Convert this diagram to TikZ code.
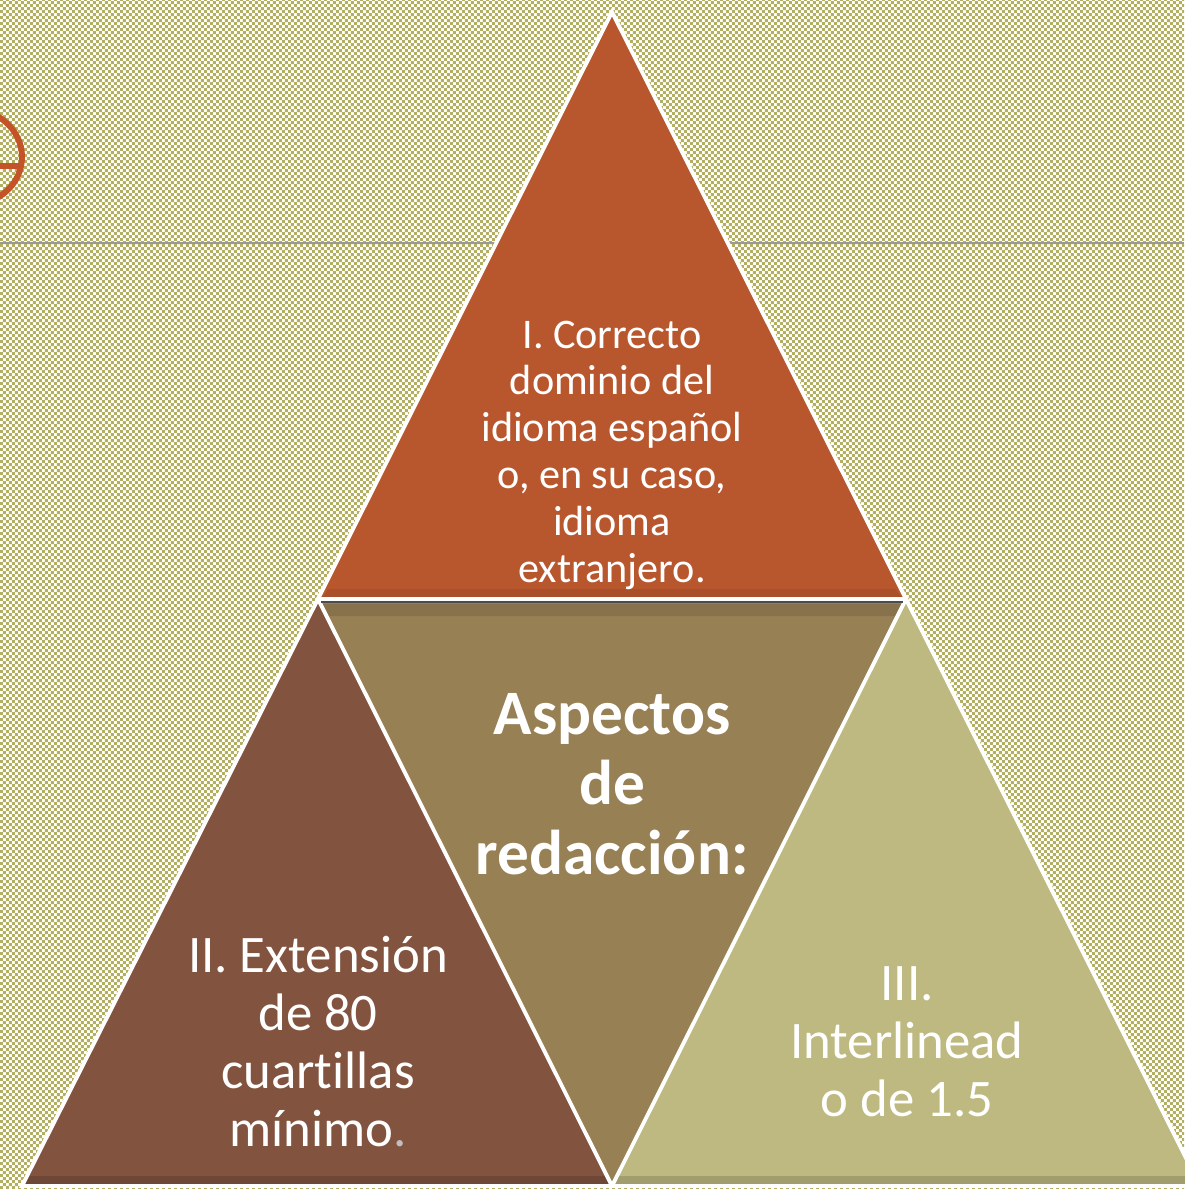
\documentclass[tikz,border=0pt]{standalone}
\usepackage{fontspec}
\setmainfont[Ligatures=NoCommon]{Carlito}
\usetikzlibrary{patterns}
\pgfdeclarepatternformonly{checker}{\pgfpointorigin}{\pgfqpoint{1.7pt}{1.7pt}}{\pgfqpoint{1.7pt}{1.7pt}}{%
  \pgfpathrectangle{\pgfpointorigin}{\pgfqpoint{0.85pt}{0.85pt}}%
  \pgfpathrectangle{\pgfqpoint{0.85pt}{0.85pt}}{\pgfqpoint{0.85pt}{0.85pt}}%
  \pgfusepath{fill}}
\definecolor{olivebg}{RGB}{178,174,98}
\definecolor{topc}{RGB}{184,87,46}
\definecolor{leftc}{RGB}{130,84,64}
\definecolor{midc}{RGB}{152,128,85}
\definecolor{rightc}{RGB}{190,185,128}
\definecolor{accent}{RGB}{196,84,40}
\tikzset{
  tri/.style={draw=white, line width=1.1pt, line join=miter},
  lbl/.style={text=white, align=center, font=\fontsize{12}{13.3}\selectfont, inner sep=0pt},
  lblbig/.style={text=white, align=center, font=\fontsize{15}{16.5}\selectfont, inner sep=0pt},
  lblmid/.style={text=white, align=center, font=\bfseries\fontsize{18}{19.9}\selectfont, inner sep=0pt}
}
\begin{document}
\begin{tikzpicture}[x=0.01cm,y=-0.01cm]
\useasboundingbox (0,0) rectangle (1184,1189);
\fill[white] (0,0) rectangle (1184,1189);
\fill[pattern=checker, pattern color=olivebg] (0,0) rectangle (1184,1189);
% header rule and partial glyph
\draw[gray!80, line width=0.6pt] (0,243) -- (1184,243);
\draw[accent, line width=1.7pt] (-30,157) ellipse[x radius=52, y radius=48];
\draw[accent, line width=1.7pt] (0,166) -- (19,166);
% triangles
\coordinate (A) at (612,12);
\coordinate (L) at (318,599);
\coordinate (R) at (906,599);
\coordinate (BL) at (22,1186);
\coordinate (BM) at (612,1186);
\coordinate (BR) at (1200,1186);
\fill[topc] (A) -- (L) -- (R) -- cycle;
\fill[leftc] (L) -- (BL) -- (BM) -- cycle;
\fill[midc] (L) -- (R) -- (BM) -- cycle;
\fill[rightc] (R) -- (BM) -- (BR) -- cycle;
% subtle base shading bands
\fill[black, opacity=0.08] (328,589) -- (896,589) -- (901,597) -- (323,597) -- cycle;
\fill[black, opacity=0.10] (322,604) -- (902,604) -- (896,616) -- (328,616) -- cycle;
\fill[black, opacity=0.15] (30,1176) -- (606,1176) -- (612,1186) -- (22,1186) -- cycle;
\fill[black, opacity=0.15] (618,1176) -- (1194,1176) -- (1200,1186) -- (612,1186) -- cycle;
\draw[tri] (A) -- (L) -- (R) -- cycle;
\draw[tri] (L) -- (BL) -- (BM) -- cycle;
\draw[tri] (R) -- (BM) -- (BR) -- cycle;
\draw[gray!60!black, line width=0.8pt] (321,602) -- (903,602);
% labels
\node[lbl] (t1) at (612,455) {I. Correcto\\dominio del\\idioma español\\o, en su caso,\\idioma\\extranjero.};
\node[lblmid] (t2) at (612,784) {Aspectos\\de\\redacción:};
\node[lblbig] (t3) at (318,1042) {II. Extensión\\de 80\\cuartillas\\mínimo\textcolor{gray!50}{.}};
\node[lblbig] (t4) at (907,1042) {III.\\Interlinead\\o de 1.5};
\end{tikzpicture}
\end{document}
